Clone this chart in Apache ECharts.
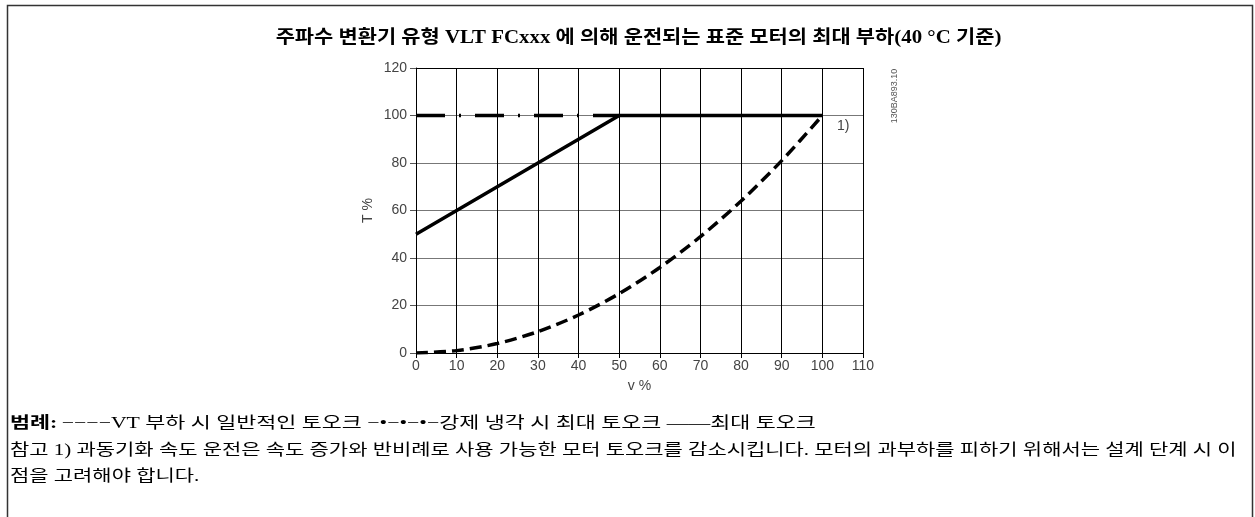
<!DOCTYPE html>
<html><head><meta charset="utf-8">
<script src="https://cdn.jsdelivr.net/npm/echarts@6/dist/echarts.min.js"></script>
<style>html,body{margin:0;padding:0;background:#fff}#c{width:1255px;height:517px}</style>
</head><body><div id="c"></div>
<script>
const titleText = '주파수 변환기 유형 VLT FCxxx 에 의해 운전되는 표준 모터의 최대 부하(40 °C 기준)';
const xTicks = [0,10,20,30,40,50,60,70,80,90,100,110];
const yTicks = [0,20,40,60,80,100,120];
const vPct = [0,10,20,30,40,50,60,70,80,90,100];
const vtTorque = [0,1,4,9,16,25,36,49,64,81,100];
const maxTorqueX = [0,50,100];
const maxTorqueY = [50,100,100];
const forcedX = [0,50];
const forcedY = [100,100];
const legendText = ['범례:', '−−−−VT 부하 시 일반적인 토오크 −•−•−•−강제 냉각 시 최대 토오크 ——최대 토오크'];
const noteLines = ['참고 1) 과동기화 속도 운전은 속도 증가와 반비례로 사용 가능한 모터 토오크를 감소시킵니다. 모터의 과부하를 피하기 위해서는 설계 단계 시 이', '점을 고려해야 합니다.'];
const codeLabel = '130BA893.10';
const footLabel = '1)';

const zip = (a,b)=>a.map((x,i)=>[x,b[i]]);
const serif = '"Liberation Serif","Noto Sans CJK KR",serif';
const sans = '"Liberation Sans",Arial,sans-serif';
const chart = echarts.init(document.getElementById('c'), null, {renderer:'canvas'});
chart.setOption({
  animation:false,
  grid:{left:416,right:392,top:68,bottom:164},
  xAxis:[{type:'value',min:0,max:110,interval:10,name:'v %',nameLocation:'middle',nameGap:26,
    nameTextStyle:{fontFamily:sans,fontSize:14,color:'#444'},
    axisLine:{lineStyle:{color:'#000',width:1}},axisTick:{show:true,length:5,lineStyle:{color:'#000'}},
    axisLabel:{fontFamily:sans,fontSize:14,color:'#444',margin:6,formatter:v=>xTicks.includes(v)?String(v):''},
    splitLine:{show:true,lineStyle:{color:'#000',width:1}}},
    {type:'value',position:'top',min:0,max:110,interval:10,axisLine:{show:true,lineStyle:{color:'#000'}},axisTick:{show:false},axisLabel:{show:false},splitLine:{show:false}}],
  yAxis:{type:'value',min:0,max:120,interval:20,name:'T %',nameLocation:'middle',nameGap:41,nameRotate:90,
    nameTextStyle:{fontFamily:sans,fontSize:14,color:'#444'},
    axisLine:{show:true,lineStyle:{color:'#000',width:1}},axisTick:{show:true,length:6,lineStyle:{color:'#555'}},
    axisLabel:{fontFamily:sans,fontSize:14,color:'#444',margin:9,formatter:v=>yTicks.includes(v)?String(v):''},
    splitLine:{show:true,lineStyle:{color:'#777',width:1}}},
  series:[
    {type:'line',data:zip(forcedX,forcedY),symbol:'none',lineStyle:{color:'#000',width:3.5,type:[29,14,2,14],cap:'butt'}},
    {type:'line',data:zip(maxTorqueX,maxTorqueY),symbol:'none',lineStyle:{color:'#000',width:3.5}},
    {type:'line',data:zip(vPct,vtTorque),symbol:'none',smooth:0.3,lineStyle:{color:'#000',width:3.5,type:[12,6],cap:'butt'}}
  ],
  graphic:[
    {type:'polyline',shape:{points:[[7.5,517],[7.5,5.5],[1252.5,5.5],[1252.5,517]]},style:{stroke:'#333',lineWidth:1.5,fill:null}},
    {type:'text',x:638.5,y:38,scaleX:1.16,style:{text:titleText,fontFamily:serif,fontSize:18,fontWeight:'bold',fill:'#000',align:'center',verticalAlign:'middle'}},
    {type:'text',x:895,y:96,rotation:Math.PI/2,style:{text:codeLabel,fontFamily:sans,fontSize:9,fill:'#555',align:'center',verticalAlign:'middle'}},
    {type:'text',x:837,y:126,style:{text:footLabel,fontFamily:sans,fontSize:14,fill:'#444',verticalAlign:'middle'}},
    {type:'text',x:10,y:424,scaleX:1.36,style:{text:'{b|'+legendText[0]+'} {n|'+legendText[1]+'}',verticalAlign:'middle',
      rich:{b:{fontFamily:serif,fontSize:16,fontWeight:'bold',fill:'#000'},n:{fontFamily:serif,fontSize:16,fill:'#000'}}}},
    {type:'text',x:10,y:451,scaleX:1.31,style:{text:noteLines[0],fontFamily:serif,fontSize:16,fill:'#000',verticalAlign:'middle'}},
    {type:'text',x:10,y:477,scaleX:1.31,style:{text:noteLines[1],fontFamily:serif,fontSize:16,fill:'#000',verticalAlign:'middle'}}
  ]
});
</script></body></html>
